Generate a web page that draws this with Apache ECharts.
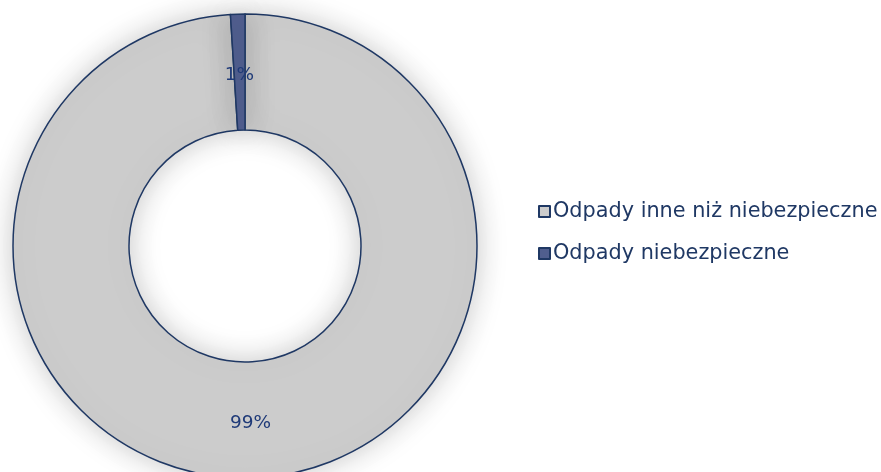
<!DOCTYPE html>
<html>
<head>
<meta charset="utf-8">
<script src="https://cdn.jsdelivr.net/npm/echarts@6/dist/echarts.min.js"></script>
<style>
html,body{margin:0;padding:0;background:#ffffff;}
#chart{width:881px;height:472px;}
</style>
</head>
<body>
<div id="chart"></div>
<script>
const categories = ['Odpady inne niż niebezpieczne', 'Odpady niebezpieczne'];
const values = [99, 1];
const labels = ['99%', '1%'];
const colors = ['#cccccc', '#505e8e'];

const chart = echarts.init(document.getElementById('chart'), null, {renderer: 'canvas'});
chart.setOption({
  backgroundColor: '#ffffff',
  animation: false,
  legend: {
    orient: 'vertical',
    left: 533,
    top: 196,
    itemWidth: 11,
    itemHeight: 11,
    itemGap: 21,
    icon: 'rect',
    textStyle: {
      fontFamily: 'DejaVu Sans',
      fontSize: 20.8,
      color: '#1f3864',
      padding: [0, 0, 0, -2]
    },
    data: categories
  },
  series: [{
    type: 'pie',
    center: [245, 246],
    radius: [116, 232],
    startAngle: 90,
    clockwise: true,
    avoidLabelOverlap: false,
    label: {
      show: true,
      position: 'inside',
      fontFamily: 'DejaVu Sans',
      fontSize: 18.5,
      color: '#1f3a78',
      formatter: function (p) { return labels[p.dataIndex]; }
    },
    labelLine: {show: false},
    itemStyle: {
      borderColor: '#1f3864',
      borderWidth: 1.5,
      shadowBlur: 30,
      shadowColor: 'rgba(0,0,0,0.22)'
    },
    emphasis: {disabled: true},
    data: categories.map((c, i) => ({
      name: c,
      value: values[i],
      itemStyle: {color: colors[i]},
      label: i === 1 ? {offset: [0, 6]} : {}
    }))
  }]
});
</script>
</body>
</html>
